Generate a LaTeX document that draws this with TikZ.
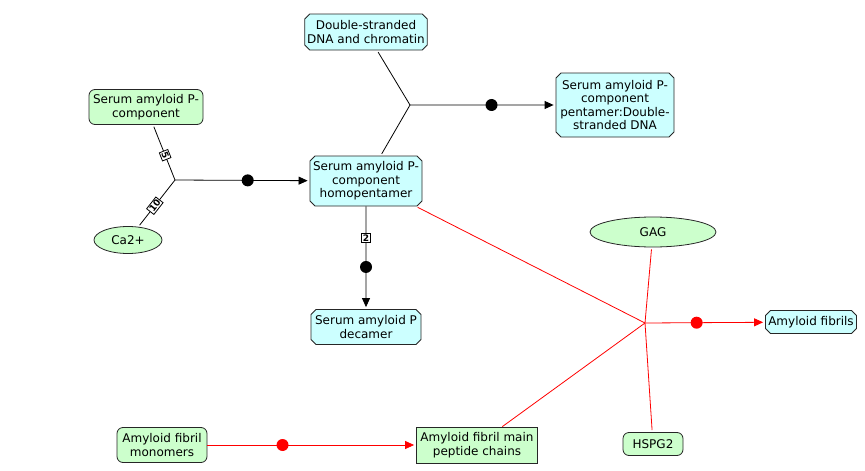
\documentclass[tikz,border=0pt]{standalone}
\usepackage{fontspec}
\setmainfont{DejaVu Sans}
\usetikzlibrary{shapes.geometric, shapes.misc, arrows.meta}
\definecolor{entityfill}{HTML}{CCFFCC}
\definecolor{complexfill}{HTML}{CCFFFF}

\begin{document}
\begin{tikzpicture}[x=1pt, y=-1pt,
    box/.style={font=\fontsize{12}{13.5}\selectfont, align=center, inner sep=0pt, draw=black!85, line width=0.8pt},
    entity/.style={box, rectangle, rounded corners=6pt, fill=entityfill},
    small/.style={box, ellipse, fill=entityfill},
    complex/.style={box, chamfered rectangle, chamfered rectangle xsep=2.5pt, chamfered rectangle ysep=2.5pt, fill=complexfill},
    dot/.style={circle, fill=#1, inner sep=0pt, minimum size=12pt},
    stoich/.style={draw, fill=white, inner sep=1.2pt, font=\fontsize{9}{10}\selectfont\bfseries, sloped},
    flow/.style={draw=#1, line width=0.8pt},
    arrow/.style={flow=#1, -{Triangle[length=9pt, width=8pt]}, shorten >=2pt}]
    \useasboundingbox (0, 0) rectangle (865, 471);

    % nodes
    \node[entity, minimum width=114, minimum height=35] (0) at (146, 107) {Serum amyloid P-\\component};
    \node[small, minimum width=68, minimum height=27] (1) at (128, 240) {Ca2+};
    \node[complex, minimum width=112, minimum height=50] (2) at (366, 181) {Serum amyloid P-\\component\\homopentamer};
    \node[complex, minimum width=122, minimum height=36] (3) at (366, 32) {Double-stranded\\DNA and chromatin};
    \node[complex, minimum width=118, minimum height=64] (4) at (615, 105) {Serum amyloid P-\\component\\pentamer:Double-\\stranded DNA};
    \node[complex, minimum width=110, minimum height=35] (5) at (366, 327) {Serum amyloid P\\decamer};
    \node[small, minimum width=126, minimum height=30] (6) at (653, 232) {GAG};
    \node[complex, minimum width=91, minimum height=23] (7) at (811, 322) {Amyloid fibrils};
    \node[entity, minimum width=60, minimum height=23] (8) at (653, 444) {HSPG2};
    \node[entity, minimum width=90, minimum height=35] (9) at (162, 445) {Amyloid fibril\\monomers};
    \node[box, fill=entityfill, minimum width=121, minimum height=36] (10) at (477, 445) {Amyloid fibril main\\peptide chains};

    % reactions
    \coordinate (r1) at (175, 180);
    \coordinate (r2) at (410, 105);
    \coordinate (r4) at (645, 323);

    \draw[flow=black, shorten <=2pt] (0) -- node[stoich, pos=0.55] {5} (r1);
    \draw[flow=black, shorten <=2pt] (1) -- node[stoich, pos=0.45] {10} (r1);
    \draw[arrow=black] (r1) -- node[dot=black, pos=0.54] {} (2);

    \draw[flow=black, shorten <=2pt] (3) -- (r2);
    \draw[flow=black, shorten <=2pt] (2) -- (r2);
    \draw[arrow=black] (r2) -- node[dot=black, pos=0.56] {} (4);

    \draw[arrow=black] (2) -- node[stoich, pos=0.31, sloped=false] {2} node[dot=black, pos=0.59] {} (5);

    \draw[flow=red, shorten <=2pt] (2) -- (r4);
    \draw[flow=red] (10) -- (r4);
    \draw[flow=red, shorten <=2pt] (6) -- (r4);
    \draw[flow=red, shorten <=2pt] (8) -- (r4);
    \draw[arrow=red] (r4) -- node[dot=red, pos=0.43] {} (7);

    \draw[arrow=red] (9) -- node[dot=red, pos=0.36] {} (10);
\end{tikzpicture}
\end{document}
